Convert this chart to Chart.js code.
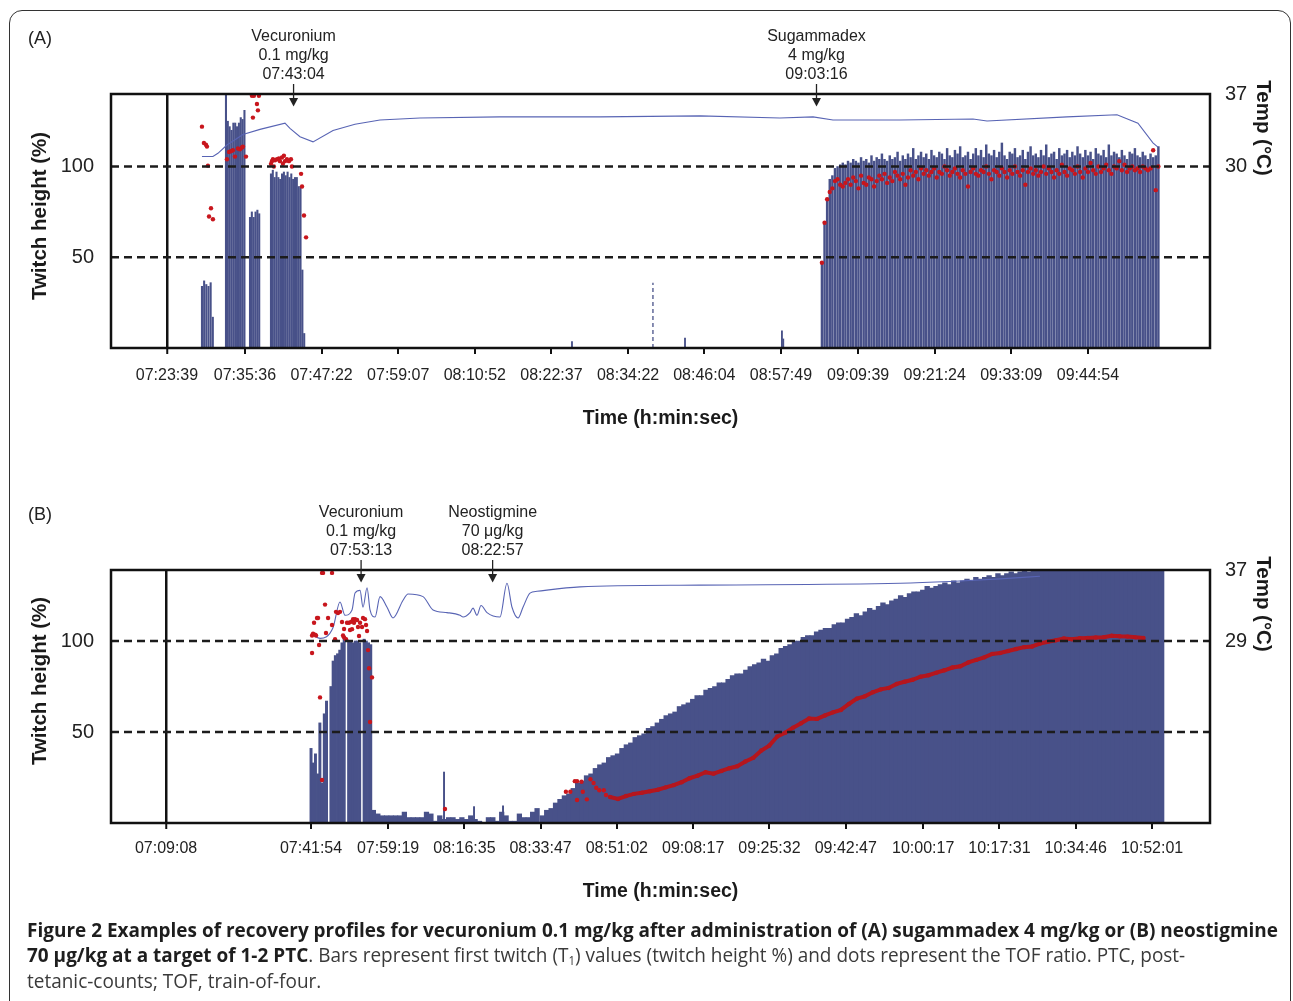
<!DOCTYPE html>
<html>
<head>
<meta charset="utf-8">
<script src="https://cdn.jsdelivr.net/npm/chart.js@4.4.1/dist/chart.umd.min.js"></script>
<style>
  body { margin: 0; background: #fff; width: 1293px; height: 1001px; overflow: hidden; position: relative; }
  #frame { position: absolute; left: 9px; top: 10px; width: 1282px; height: 1020px; border: 1.5px solid #333; border-radius: 13px; box-sizing: border-box; }
  canvas { position: absolute; left: 0; }
  #chartA { top: 0; }
  #chartB { top: 470px; }
  .cap { position: absolute; left: 27px; white-space: nowrap; font-family: "Open Sans", sans-serif; font-size: 20px; line-height: 26px; color: #3a3a3a; transform-origin: 0 50%; }
  .cap b { color: #1e1e1e; }
  .cap sub { font-size: 12px; vertical-align: -3px; line-height: 0; }
</style>
</head>
<body>
<div id="frame"></div>
<canvas id="chartA" width="1293" height="447"></canvas>
<canvas id="chartB" width="1293" height="450"></canvas>
<div class="cap" id="cap1" style="top:917px"><b>Figure 2 Examples of recovery profiles for vecuronium 0.1 mg/kg after administration of (A) sugammadex 4 mg/kg or (B) neostigmine</b></div>
<div class="cap" style="top:942px"><b>70 μg/kg at a target of 1-2 PTC</b>. Bars represent first twitch (T<sub>1</sub>) values (twitch height %) and dots represent the TOF ratio. PTC, post-</div>
<div class="cap" style="top:968px">tetanic-counts; TOF, train-of-four.</div>

<script>
// ---------- panel A : sugammadex ----------
const aTicks = ['07:23:39', '07:35:36', '07:47:22', '07:59:07', '08:10:52', '08:22:37', '08:34:22',
                '08:46:04', '08:57:49', '09:09:39', '09:21:24', '09:33:09', '09:44:54'];
const aRange = ['07:15:04', '10:03:37'];

// T1 bars, recorded in runs: start time, seconds between stimuli, heights (%)
const aRunStart = ['07:29:01', '07:32:42', '07:36:23', '07:39:36', '09:04:06'];
const aRunStep = [20, 17, 17, 17, 24];
const aRun1 = [34, 37, 35, 34, 36, 17];
const aRun2 = [150, 125, 122, 120, 124, 124, 122, 124, 127, 126, 131];
const aRun3 = [72, 75, 72, 75, 76, 74];
const aRun4 = [96, 98, 94, 97, 94, 93, 96, 97, 95, 97, 94, 96, 93, 94, 94, 89, 89, 43, 8];
const aRun5 = [
  47, 69, 82, 93, 95, 99, 100, 101, 102, 101,
  103, 102, 104, 103, 102, 105, 103, 104, 102, 106,
  103, 105, 104, 107, 104, 103, 106, 104, 105, 108,
  103, 106, 104, 107, 105, 110, 104, 106, 108, 105,
  107, 104, 109, 106, 105, 108, 107, 104, 110, 106,
  105, 109, 107, 111, 105, 106, 108, 104, 107, 110,
  106, 109, 105, 112, 107, 106, 109, 105, 108, 113,
  106, 104, 108, 107, 110, 105, 106, 109, 104, 108,
  111, 106, 107, 105, 109, 106, 112, 105, 107, 108,
  104, 110, 106, 107, 109, 105, 108, 106, 111, 107,
  105, 109, 106, 108, 104, 110, 107, 106, 109, 105,
  112, 106, 108, 107, 105, 109, 106, 104, 108, 107,
  110, 106, 105, 108, 106, 104, 107, 105, 106, 111];
const aSparseTimes = ['08:25:46', '08:43:06', '08:57:58', '08:58:10'];
const aSparseValues = [3.5, 5.5, 9.5, 5];
const aMarkTime = '08:38:11';
const aMarkValue = 36;

// TOF ratio dots
const aDotTimes = ['07:29:01', '07:29:19', '07:29:38', '07:29:47', '07:29:56', '07:30:06', '07:30:24', '07:30:42',
  '07:32:51', '07:33:10', '07:33:28', '07:33:46', '07:34:05', '07:34:32', '07:34:51', '07:35:09', '07:35:18', '07:35:46',
  '07:36:41', '07:36:50', '07:36:59', '07:37:27', '07:37:36', '07:37:45',
  '07:39:36', '07:39:45', '07:39:54', '07:40:03', '07:40:13', '07:40:31', '07:40:49', '07:40:59', '07:41:17', '07:41:26',
  '07:41:35', '07:41:45', '07:42:03', '07:42:21', '07:42:40', '07:42:49',
  '07:44:13', '07:44:22', '07:44:40', '07:44:59'];
const aDotValues = [122, 113, 112, 111, 100.5, 72.5, 77, 71,
  104, 108, 108.5, 109, 105.5, 110, 109.5, 110.5, 111, 105.5,
  139, 127, 139, 134.5, 131, 139,
  101.5, 103, 104, 100, 103.5, 104, 104.5, 103, 105, 101.5, 106, 103, 104, 103, 104, 100,
  96, 89, 73, 61];
const aDotRunStart = '09:04:06';
const aDotRunStep = 24;
const aDotRun = [
  47, 69, 82, 86, 88, 92, 93, 90, 89, 91,
  93, 90, 94, 92, 88, 95, 91, 90, 94, 93,
  89, 92, 95, 93, 96, 91, 94, 92, 97, 95,
  93, 96, 90, 94, 98, 95, 97, 93, 99, 96,
  98, 95, 97, 99, 94, 97, 96, 100, 98, 95,
  97, 99, 96, 94, 98, 96, 89, 97, 99, 96,
  95, 98, 97, 100, 96, 93, 98, 97, 95, 99,
  97, 94, 98, 96, 100, 97, 95, 98, 90, 97,
  99, 96, 98, 95, 97, 100, 96, 99, 97, 94,
  98, 96, 101, 97, 95, 99, 98, 96, 100, 97,
  94, 99, 97, 102, 98, 96, 100, 97, 99, 101,
  98, 96, 100, 99, 103, 98, 101, 97, 99, 100,
  98, 99, 97, 100, 99, 98, 99, 109, 87, 100];

// temperature (°C)
const aTempTimes = ['07:29:01', '07:30:42', '07:31:28', '07:32:51', '07:35:18', '07:37:55', '07:41:45', '07:42:31',
  '07:44:03', '07:46:03', '07:49:07', '07:52:29', '07:56:19', '08:02:27', '08:14:43', '08:30:04', '08:45:24',
  '08:57:40', '09:02:44', '09:05:48', '09:16:04', '09:27:16', '09:29:25', '09:41:41', '09:49:21', '09:52:34',
  '09:54:52', '09:55:38'];
const aTempValues = [31.0, 31.0, 31.3, 32.1, 33.1, 33.6, 34.2, 33.7, 32.9, 32.4, 33.5, 34.1, 34.5, 34.7, 34.8, 34.8,
  34.9, 34.7, 34.8, 34.5, 34.5, 34.6, 34.4, 34.8, 35.0, 34.2, 32.3, 31.9];

const aEventTimes = ['07:43:04', '09:03:16'];
const aEventLabels = [['Vecuronium', '0.1 mg/kg', '07:43:04'], ['Sugammadex', '4 mg/kg', '09:03:16']];

// ---------- panel B : neostigmine ----------
const bTicks = ['07:09:08', '07:41:54', '07:59:19', '08:16:35', '08:33:47', '08:51:02', '09:08:17',
                '09:25:32', '09:42:47', '10:00:17', '10:17:31', '10:34:46', '10:52:01'];
const bRange = ['06:56:41', '11:05:07'];

const bRunStart = ['07:41:54', '07:56:00', '08:34:11'];
const bRunStep = [30, 60, 60];
const bRun1 = [41, 33, 38, 27, 55, 22, 60, 67, 0, 75, 89, 92, 93, 95, 99, 101, 0, 100, 100, 99, 100, 100, 99, 0,
  101, 100, 99, 98];
const bRun2 = [7, 5, 4, 4, 4, 4, 4, 6, 3, 3, 3, 3, 6, 5, 1, 4, 2, 3, 3, 2, 3, 2, 4, 2, 1, 0, 3, 3, 1, 6, 4, 1, 1,
  5, 3, 3, 6, 8];
const bRun3 = [
  4, 7, 8, 11, 13, 15, 16, 19, 22, 23,
  26, 27, 30, 32, 33, 36, 37, 38, 41, 43,
  44, 47, 48, 49, 52, 53, 55, 57, 59, 60,
  61, 64, 65, 66, 68, 70, 70, 73, 74, 75,
  77, 77, 79, 81, 82, 82, 84, 86, 87, 88,
  90, 89, 92, 93, 96, 97, 98, 100, 100, 102,
  103, 103, 105, 106, 107, 107, 109, 110, 110, 112,
  113, 115, 114, 116, 118, 117, 119, 121, 120, 122,
  123, 125, 124, 126, 127, 127, 128, 130, 129, 130,
  131, 132, 131, 133, 132, 133, 134, 133, 135, 134,
  135, 136, 135, 137, 136, 137, 138, 137, 138, 139,
  138, 139, 140, 139, 141, 142, 143, 144, 145, 146,
  147, 148, 148, 149, 149, 150, 150, 150, 150, 150,
  150, 150, 150, 150, 150, 150, 150, 150, 150, 150, 150];
const bSparseTimes = ['08:11:58', '08:18:45', '08:25:18'];
const bSparseValues = [28, 9, 9.5];

const bDotTimes = ['07:42:08', '07:42:08', '07:42:21', '07:42:35', '07:42:48', '07:43:02', '07:43:15', '07:43:29',
  '07:43:43', '07:43:56', '07:44:23', '07:44:23', '07:44:37', '07:45:04', '07:45:17', '07:45:45', '07:46:39',
  '07:46:39', '07:47:20', '07:47:33', '07:48:00', '07:48:27', '07:48:54', '07:49:08', '07:49:22', '07:49:22',
  '07:49:49', '07:50:02', '07:50:29', '07:50:43', '07:50:57', '07:51:10', '07:51:24', '07:51:37', '07:51:51',
  '07:52:18', '07:52:31', '07:52:45', '07:52:59', '07:53:26', '07:53:39', '07:54:06', '07:54:20', '07:54:34',
  '07:54:47', '07:55:01', '07:55:14', '07:55:41', '08:12:11',
  '08:39:31', '08:40:31', '08:41:32', '08:42:02', '08:42:02', '08:43:03', '08:43:20', '08:44:15', '08:45:04',
  '08:45:46', '08:46:22', '08:47:04', '08:48:05', '08:48:35'];
const bDotValues = [93.4, 103, 104, 110, 103.5, 103, 112.6, 112.6, 97.8, 69,
  137.4, 23.6, 137.4, 120, 104.4, 112.6, 137.4, 108.8, 101, 116,
  115.4, 116, 110.4, 103, 106.6, 102, 101, 110, 110, 106,
  110.5, 106.5, 112, 110, 112, 111.5, 107.7, 102.7, 110, 107.7,
  112.6, 112, 108.8, 105.5, 95, 85, 55.5, 80, 7.7,
  17.2, 17.2, 23, 23, 12.6, 22.7, 17.2, 13, 24, 22, 19.4, 18, 18, 15.4];
const bBandStart = '08:49:29';
const bBandStep = 108;
const bBand = [
  14.3, 13.2, 14.8, 16.0, 16.6, 17.4, 18.3, 19.6, 20.8, 22.4,
  24.6, 26.0, 27.9, 27.1, 28.6, 30.1, 31.2, 33.8, 35.8, 39.8,
  42.5, 47.5, 49.6, 52.4, 54.8, 57.4, 57.2, 59.1, 60.8, 62.1,
  65.4, 68.3, 69.6, 71.8, 73.4, 74.2, 76.4, 77.6, 78.7, 80.4,
  81.2, 82.6, 83.9, 85.4, 86.1, 88.2, 89.6, 91.0, 92.9, 93.4,
  94.5, 95.6, 96.6, 97.0, 98.6, 99.6, 100.4, 101.4, 100.9, 101.5,
  101.7, 101.9, 102.1, 102.9, 102.6, 102.4, 102.0, 101.7];

const bTempTimes = ['07:42:21', '07:43:56', '07:46:52', '07:48:27', '07:49:35', '07:51:10', '07:51:51', '07:52:59',
  '07:53:39', '07:54:34', '07:55:14', '07:56:22', '07:57:30', '07:59:05', '08:00:26', '08:02:42', '08:03:50',
  '08:07:13', '08:09:29', '08:12:39', '08:15:35', '08:16:16', '08:17:51', '08:18:31', '08:19:25', '08:20:20',
  '08:21:41', '08:24:37', '08:26:12', '08:27:20', '08:28:42', '08:29:49', '08:31:24', '08:32:59', '08:42:42',
  '09:09:50', '09:55:03', '10:06:21', '10:17:39', '10:26:41'];
const bTempValues = [29.7, 29.3, 30.5, 33.4, 31.9, 32.5, 34.4, 34.7, 32.8, 35.0,
  32.5, 31.7, 34.0, 32.8, 31.6, 33.6, 34.3, 34.0, 32.5, 32.2,
  31.9, 31.7, 32.2, 32.7, 31.9, 33.0, 32.2, 31.7, 35.5, 32.8,
  31.6, 32.8, 34.4, 34.6, 35.1, 35.3, 35.5, 35.7, 36.0, 36.3];

const bEventTimes = ['07:53:13', '08:22:57'];
const bEventLabels = [['Vecuronium', '0.1 mg/kg', '07:53:13'], ['Neostigmine', '70 μg/kg', '08:22:57']];

const twitchTicks = [50, 100];
const aTempTicks = [30, 37];
const bTempTicks = [29, 37];

// ---------- helpers ----------
const FONT = '"Liberation Sans", Arial, sans-serif';
const BAR = '#485189';
const DOT = '#c8161d';

function toSec(s) {
  const p = s.split(':').map(Number);
  return p[0] * 3600 + p[1] * 60 + p[2];
}
function toClock(v) {
  const h = Math.floor(v / 3600), m = Math.floor((v % 3600) / 60), s = Math.round(v % 60);
  return [h, m, s].map(n => String(n).padStart(2, '0')).join(':');
}
function run(start, step, values) {
  const t0 = toSec(start);
  return values.map((y, i) => ({ x: t0 + i * step, y: y }));
}
function pairs(times, values) {
  return times.map((t, i) => ({ x: toSec(t), y: values[i] }));
}
function barSet(data, thickness) {
  return { type: 'bar', data: data, backgroundColor: BAR, barThickness: thickness, grouped: false, order: 3 };
}
function dotSet(data) {
  return { type: 'line', data: data, showLine: false, pointRadius: 2.2, pointBackgroundColor: DOT,
           pointBorderWidth: 0, order: 0 };
}
function tempSet(data, smooth) {
  return { type: 'line', data: data, yAxisID: 'y2', borderColor: '#5864b4', borderWidth: 1.1, pointRadius: 0,
           cubicInterpolationMode: smooth ? 'monotone' : 'default', order: 1 };
}

const panelExtras = {
  id: 'panelExtras',
  afterDatasetsDraw(chart, args, o) {
    const { ctx, chartArea: a, scales } = chart;
    ctx.save();
    ctx.strokeStyle = '#1c1c1c';
    ctx.lineWidth = 2.4;
    ctx.setLineDash([8, 5]);
    twitchTicks.forEach(v => {
      const y = scales.y.getPixelForValue(v);
      ctx.beginPath(); ctx.moveTo(a.left, y); ctx.lineTo(a.right, y); ctx.stroke();
    });
    ctx.setLineDash([]);
    ctx.lineWidth = 2.5;
    ctx.strokeStyle = '#111';
    ctx.strokeRect(a.left, a.top, a.right - a.left, a.bottom - a.top);
    ctx.restore();
  },
  afterDraw(chart, args, o) {
    const { ctx, chartArea: a, scales } = chart;
    ctx.save();
    ctx.fillStyle = '#222';
    ctx.strokeStyle = '#222';
    ctx.textAlign = 'center';
    ctx.textBaseline = 'middle';
    ctx.font = '16px ' + FONT;
    o.eventTimes.forEach((t, i) => {
      const x = scales.x.getPixelForValue(toSec(t));
      o.eventLabels[i].forEach((s, k) => ctx.fillText(s, x, a.top - 57 + k * 19));
      ctx.lineWidth = 1.3;
      ctx.beginPath(); ctx.moveTo(x, a.top - 10); ctx.lineTo(x, a.top + 6); ctx.stroke();
      ctx.beginPath(); ctx.moveTo(x - 4.5, a.top + 4); ctx.lineTo(x + 4.5, a.top + 4); ctx.lineTo(x, a.top + 12.5);
      ctx.closePath(); ctx.fill();
    });
    ctx.font = '18px ' + FONT;
    ctx.fillText(o.label, 40, a.top - 55);

    ctx.fillStyle = '#1a1a1a';
    ctx.font = 'bold 20.5px ' + FONT;
    ctx.save();
    ctx.translate(40, a.top + o.yTitleOffset);
    ctx.rotate(-Math.PI / 2);
    ctx.fillText('Twitch height (%)', 0, 0);
    ctx.restore();
    ctx.save();
    ctx.translate(1263, a.top + 34);
    ctx.rotate(Math.PI / 2);
    ctx.fillText('Temp (°C)', 0, 0);
    ctx.restore();
    ctx.restore();
  }
};

function makeChart(id, p) {
  return new Chart(document.getElementById(id), {
    type: 'bar',
    data: { datasets: p.datasets },
    options: {
      responsive: false,
      animation: false,
      devicePixelRatio: 1,
      layout: { padding: { top: p.top, left: 0, right: 0, bottom: 0 } },
      plugins: { legend: { display: false }, tooltip: { enabled: false }, panelExtras: p.extras },
      scales: {
        x: {
          type: 'linear', offset: false,
          min: toSec(p.range[0]), max: toSec(p.range[1]),
          afterBuildTicks: ax => { ax.ticks = p.ticks.map(t => ({ value: toSec(t) })); },
          afterFit: ax => { ax.height = p.xHeight; },
          ticks: { autoSkip: false, maxRotation: 0, padding: p.tickPad, color: '#222',
                   font: { family: FONT, size: 16 }, callback: v => toClock(v) },
          grid: { offset: false, drawOnChartArea: true,
                  color: c => c.index === 0 ? '#111' : 'rgba(0,0,0,0)',
                  lineWidth: c => c.index === 0 ? 2.5 : 2,
                  tickColor: '#111', tickWidth: 2, tickLength: 6 },
          border: { display: false },
          title: { display: true, text: 'Time (h:min:sec)', color: '#1a1a1a',
                   font: { family: FONT, size: 19.5, weight: 'bold' }, padding: { top: 0, bottom: 17 } }
        },
        y: {
          position: 'left', min: 0, max: p.yMax,
          afterBuildTicks: ax => { ax.ticks = twitchTicks.map(v => ({ value: v })); },
          afterFit: ax => { ax.width = 111; },
          ticks: { padding: 9, color: '#222', font: { family: FONT, size: 20 } },
          grid: { display: false },
          border: { display: false }
        },
        y2: {
          position: 'right', min: p.tMin, max: 37,
          afterBuildTicks: ax => { ax.ticks = p.tTicks.map(v => ({ value: v })); },
          afterFit: ax => { ax.width = 83; },
          ticks: { padding: 7, color: '#222', font: { family: FONT, size: 20 } },
          grid: { display: false },
          border: { display: false }
        }
      }
    },
    plugins: [panelExtras]
  });
}

const chartA = makeChart('chartA', {
  top: 94, xHeight: 99, yMax: 140, tMin: 12.6, tTicks: aTempTicks, range: aRange, ticks: aTicks, tickPad: 12,
  extras: { eventTimes: aEventTimes, eventLabels: aEventLabels, label: '(A)', yTitleOffset: 122 },
  datasets: [
    dotSet(pairs(aDotTimes, aDotValues)),
    dotSet(run(aDotRunStart, aDotRunStep, aDotRun)),
    tempSet(pairs(aTempTimes, aTempValues), false),
    { type: 'line', data: [{ x: toSec(aMarkTime), y: 0 }, { x: toSec(aMarkTime), y: aMarkValue }],
      borderColor: BAR, borderWidth: 1.3, borderDash: [4, 3], pointRadius: 0, order: 2 },
    barSet(run(aRunStart[0], aRunStep[0], aRun1), 1.4),
    barSet(run(aRunStart[1], aRunStep[1], aRun2), 1.4),
    barSet(run(aRunStart[2], aRunStep[2], aRun3), 1.4),
    barSet(run(aRunStart[3], aRunStep[3], aRun4), 1.4),
    barSet(run(aRunStart[4], aRunStep[4], aRun5), 1.8),
    barSet(pairs(aSparseTimes, aSparseValues), 1.2)
  ]
});

const chartB = makeChart('chartB', {
  top: 100, xHeight: 97, yMax: 139, tMin: 8.5, tTicks: bTempTicks, range: bRange, ticks: bTicks, tickPad: 10,
  extras: { eventTimes: bEventTimes, eventLabels: bEventLabels, label: '(B)', yTitleOffset: 111 },
  datasets: [
    dotSet(pairs(bDotTimes, bDotValues)),
    { type: 'line', data: run(bBandStart, bBandStep, bBand), borderColor: '#b5161d', borderWidth: 4,
      pointRadius: 2.2, pointBackgroundColor: '#b5161d', pointBorderWidth: 0, order: 0 },
    tempSet(pairs(bTempTimes, bTempValues), true),
    barSet(run(bRunStart[0], bRunStep[0], bRun1), 2.3),
    barSet(run(bRunStart[1], bRunStep[1], bRun2), 4.6),
    barSet(run(bRunStart[2], bRunStep[2], bRun3), 4.7),
    barSet(pairs(bSparseTimes, bSparseValues), 1.3)
  ]
});

// caption: squeeze to the column width like the printed figure legend
function fitCaption() {
  const caps = document.querySelectorAll('.cap');
  const w = document.getElementById('cap1').offsetWidth;
  const k = 1251 / w;
  caps.forEach(c => { c.style.transform = 'scaleX(' + k + ')'; });
}
if (document.fonts && document.fonts.ready) document.fonts.ready.then(fitCaption);
fitCaption();
</script>
</body>
</html>
